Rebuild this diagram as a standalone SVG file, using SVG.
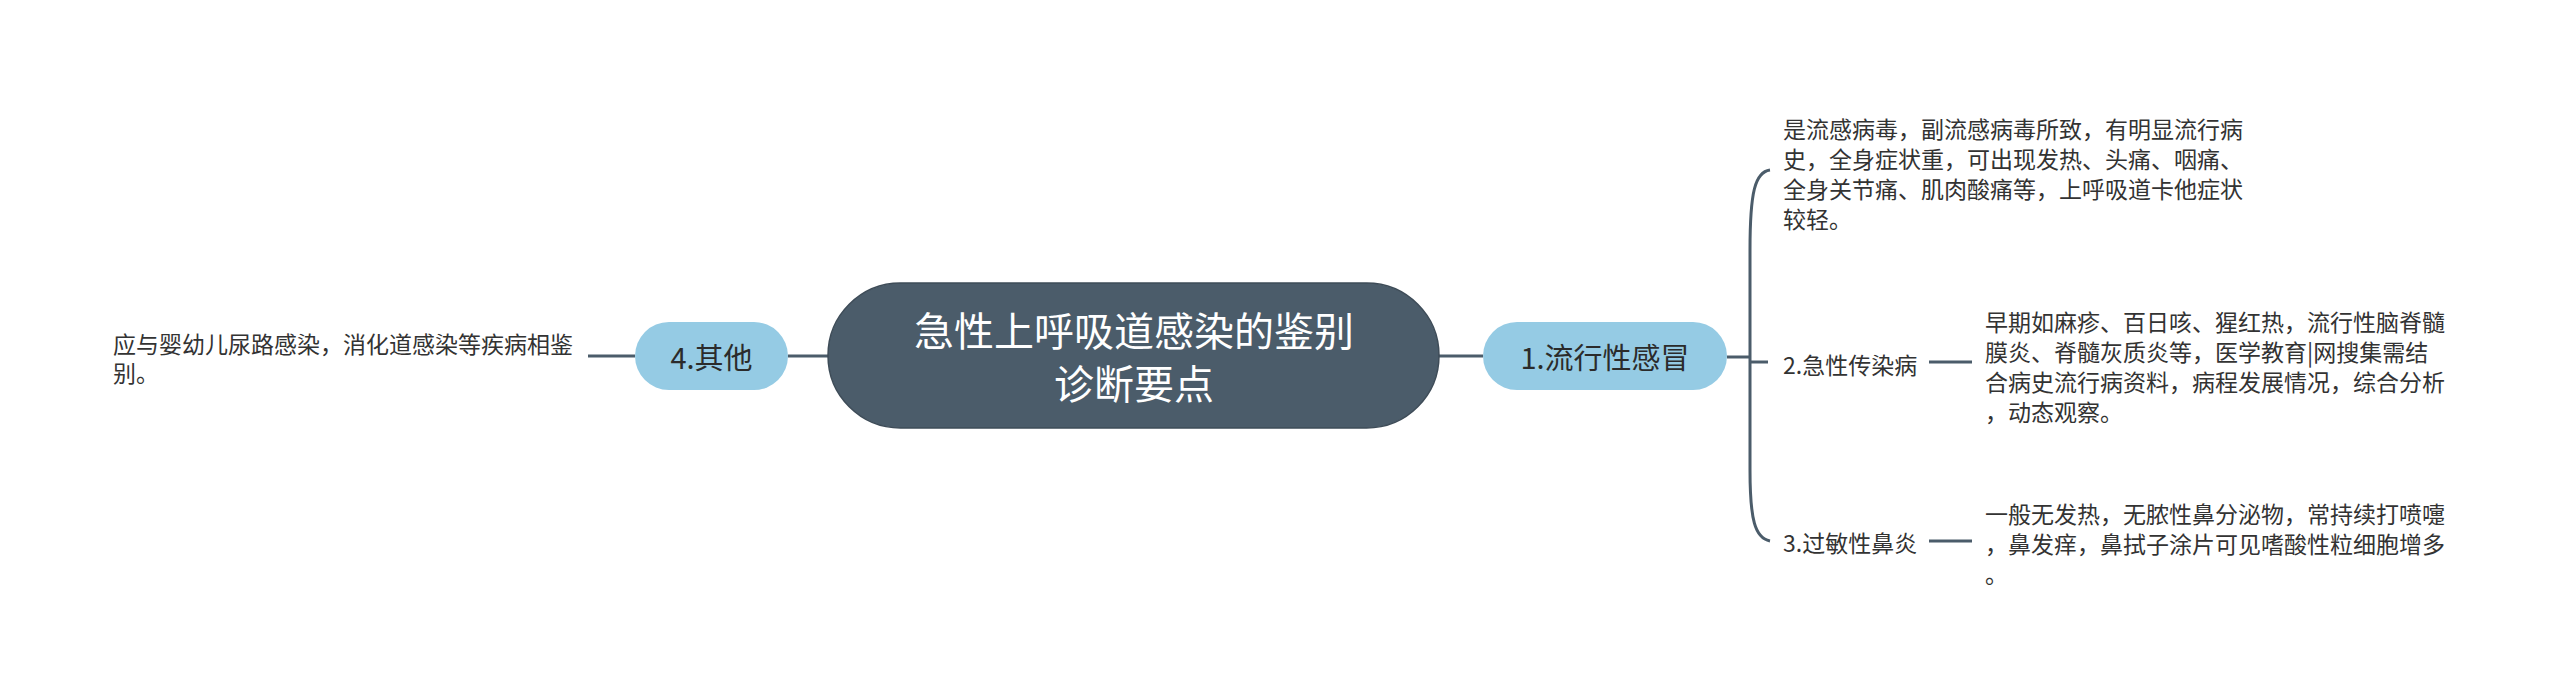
<svg xmlns="http://www.w3.org/2000/svg" width="2560" height="697" viewBox="0 0 2560 697">
<style>
text{font-family:"Noto Sans CJK SC","Microsoft YaHei","Noto Sans",sans-serif;dominant-baseline:central}
.root{fill:#4b5c6a;stroke:#3e4c58;stroke-width:1.5}
.main{fill:#95cbe4}
.rt{fill:#ffffff;font-size:40px;text-anchor:middle}
.mt{fill:#2b2b2b;font-size:29px;text-anchor:middle}
.lb{fill:#333333;font-size:23px}
.tx{fill:#333333;font-size:23px}
.cn{fill:none;stroke:#4b5c6a;stroke-width:3;stroke-linecap:butt}
</style>
<rect width="2560" height="697" fill="#ffffff"/>
<g id="connectors">
<path class="cn" d="M828,356 L788,356"/>
<path class="cn" d="M635,356 L588,356"/>
<path class="cn" d="M1439,356 L1483,356"/>
<path class="cn" d="M1727,357 L1750,357"/>
<path class="cn" d="M1750,357 L1750,250 C1750,192 1755,172 1770,170"/>
<path class="cn" d="M1750,357 L1750,470 C1750,520 1755,538 1770,541"/>
<path class="cn" d="M1750,362 L1768,362"/>
<path class="cn" d="M1929,362 L1972,362"/>
<path class="cn" d="M1929,541 L1972,541"/>
</g>
<g id="root">
<rect class="root" x="828" y="283" width="611" height="145" rx="72.5"/>
<text class="rt" x="1134" y="329">急性上呼吸道感染的鉴别</text>
<text class="rt" x="1134" y="382">诊断要点</text>
</g>
<g id="n1">
<rect class="main" x="1483" y="322" width="244" height="68" rx="34"/>
<text class="mt" x="1605" y="356">1.流行性感冒</text>
</g>
<g id="n1-text">
<text class="tx" x="1783" y="128">是流感病毒，副流感病毒所致，有明显流行病</text>
<text class="tx" x="1783" y="158">史，全身症状重，可出现发热、头痛、咽痛、</text>
<text class="tx" x="1783" y="188">全身关节痛、肌肉酸痛等，上呼吸道卡他症状</text>
<text class="tx" x="1783" y="218">较轻。</text>
</g>
<g id="n2">
<text class="lb" x="1783" y="364">2.急性传染病</text>
</g>
<g id="n2-text">
<text class="tx" x="1985" y="321">早期如麻疹、百日咳、猩红热，流行性脑脊髓</text>
<text class="tx" x="1985" y="351">膜炎、脊髓灰质炎等，医学教育|网搜集需结</text>
<text class="tx" x="1985" y="381">合病史流行病资料，病程发展情况，综合分析</text>
<text class="tx" x="1985" y="411">，动态观察。</text>
</g>
<g id="n3">
<text class="lb" x="1783" y="542">3.过敏性鼻炎</text>
</g>
<g id="n3-text">
<text class="tx" x="1985" y="513">一般无发热，无脓性鼻分泌物，常持续打喷嚏</text>
<text class="tx" x="1985" y="543">，鼻发痒，鼻拭子涂片可见嗜酸性粒细胞增多</text>
<text class="tx" x="1985" y="573">。</text>
</g>
<g id="n4">
<rect class="main" x="635" y="322" width="153" height="68" rx="34"/>
<text class="mt" x="711.5" y="356">4.其他</text>
</g>
<g id="n4-text">
<text class="tx" x="113" y="343">应与婴幼儿尿路感染，消化道感染等疾病相鉴</text>
<text class="tx" x="113" y="372">别。</text>
</g>
</svg>
